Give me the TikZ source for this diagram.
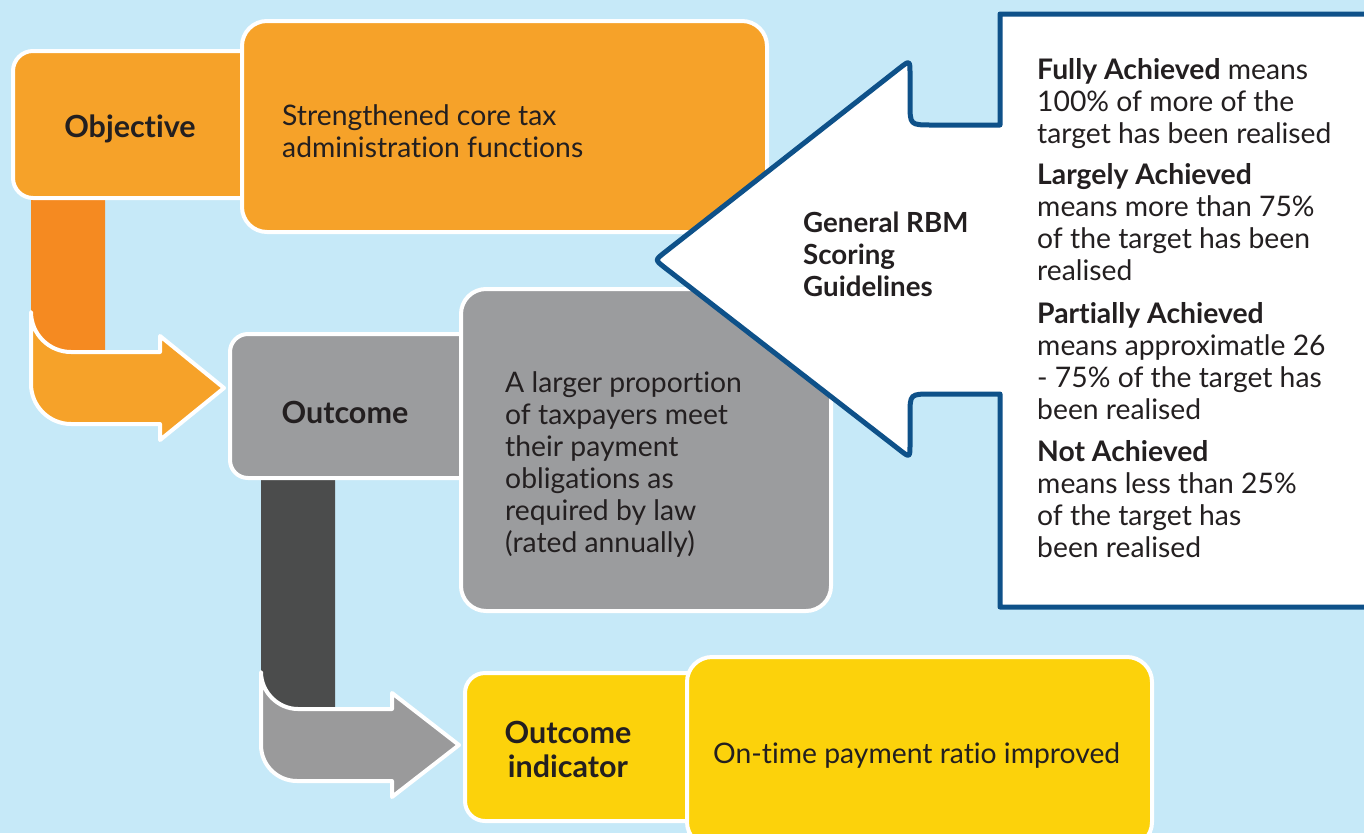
\documentclass[tikz,border=0pt]{standalone}
\usepackage{fontspec}
\setmainfont{Lato}[Ligatures=NoCommon]
\definecolor{bg}{HTML}{C6E9F8}
\definecolor{orangeA}{HTML}{F6A229}
\definecolor{orangeD}{HTML}{F58A21}
\definecolor{grayB}{HTML}{9B9C9E}
\definecolor{grayD}{HTML}{4B4C4C}
\definecolor{grayA}{HTML}{9A9A9B}
\definecolor{yellowB}{HTML}{FCD20B}
\definecolor{blueL}{HTML}{0E5189}
\definecolor{ink}{HTML}{231F20}
\begin{document}
\begin{tikzpicture}[x=1pt,y=-1pt,
  box/.style={draw=white,line width=4pt,rounded corners=#1},
  shapeline/.style={draw=white,line width=4pt,line join=round},
  bodytext/.style={inner sep=0pt,text=ink,font=\fontsize{28.3}{32}\selectfont,align=left},
  headtext/.style={inner sep=0pt,text=ink,font=\fontsize{30.5}{34}\selectfont\bfseries,align=center},
  rtext/.style={inner sep=0pt,text=ink,font=\fontsize{28.3}{32}\selectfont,align=left}]
\useasboundingbox (0,0) rectangle (1364,833);
\fill[bg] (0,0) rectangle (1364,833);

% orange connector
\fill[orangeD] (31,190) -- (31,312) .. controls (31,334) and (49,352) .. (71,352) -- (105,352) -- (105,190) -- cycle;
\path[fill=orangeA,shapeline] (31,312) -- (31,384) .. controls (31,406) and (49,424) .. (71,424)
  -- (160,424) -- (160,440) -- (224,388) -- (160,336) -- (160,352) -- (71,352)
  .. controls (49,352) and (31,334) .. (31,312) -- cycle;

% objective
\path[fill=orangeA,box=20] (13,51) rectangle (290,198);
\node[box=25,fill=orangeA,minimum width=525pt,minimum height=211pt,anchor=north west,inner sep=0pt] (strong) at (240,19) {};
\node[headtext,anchor=base] (obj) at (130,137) {Objective};
\node[bodytext,anchor=base west] (strongtext) at (282,157) {Strengthened core tax\\administration functions};

% gray connector
\fill[grayD] (261,470) -- (261,672) .. controls (261,692) and (278,709) .. (298,709) -- (335,709) -- (335,470) -- cycle;
\path[fill=grayA,shapeline] (261,672) -- (261,745) .. controls (261,765) and (277,781) .. (297,781)
  -- (392,781) -- (392,797) -- (459,745) -- (392,693) -- (392,709) -- (298,709)
  .. controls (278,709) and (261,692) .. (261,672) -- cycle;

% outcome
\path[fill=grayB,box=18] (230,334) rectangle (500,478);
\node[box=25,fill=grayB,minimum width=370pt,minimum height=322pt,anchor=north west,inner sep=0pt] (outbig) at (459,287) {};
\node[headtext,anchor=base] (outc) at (345,423) {Outcome};
\node[bodytext,anchor=base west] (outtext) at (505,552) {A larger proportion\\of taxpayers meet\\their payment\\obligations as\\required by law\\(rated annually)};

% outcome indicator
\path[fill=yellowB,box=20] (465,673) rectangle (720,821);
\node[box=25,fill=yellowB,minimum width=465pt,minimum height=190pt,anchor=north west,inner sep=0pt] (indbig) at (685,655) {};
\node[headtext,anchor=base] (ind) at (568,777) {Outcome\\indicator};
\node[bodytext,anchor=base west] (indtext) at (713,763) {On-time payment ratio improved};

% callout arrow
\path[fill=white,draw=blueL,line width=5pt,line join=round]
  (1372,14) -- (1000,14) -- (1000,125) -- (932,125) .. controls (910,125) .. (910,103)
  -- (910,74) .. controls (910,60) .. (899,68.6)
  -- (664.4,252.6) .. controls (655,260) .. (664.5,267.4)
  -- (899,449.4) .. controls (910,458) .. (910,444)
  -- (910,415) .. controls (910,394) .. (932,394) -- (1000,394)
  -- (1000,607) -- (1372,607);
\node[headtext,align=left,anchor=base west,font=\fontsize{27.7}{32}\selectfont\bfseries] (rbm) at (803,296) {General RBM\\Scoring\\Guidelines};

\node[rtext,anchor=base west] (g1) at (1037,143) {\textbf{Fully Achieved} means\\100\% of more of the\\target has been realised};
\node[rtext,anchor=base west] (g2) at (1037,280) {\textbf{Largely Achieved}\\means more than 75\%\\of the target has been\\realised};
\node[rtext,anchor=base west] (g3) at (1037,419) {\textbf{Partially Achieved}\\means approximatle 26\\- 75\% of the target has\\been realised};
\node[rtext,anchor=base west] (g4) at (1037,557) {\textbf{Not Achieved}\\means less than 25\%\\of the target has\\been realised};
\end{tikzpicture}
\end{document}
